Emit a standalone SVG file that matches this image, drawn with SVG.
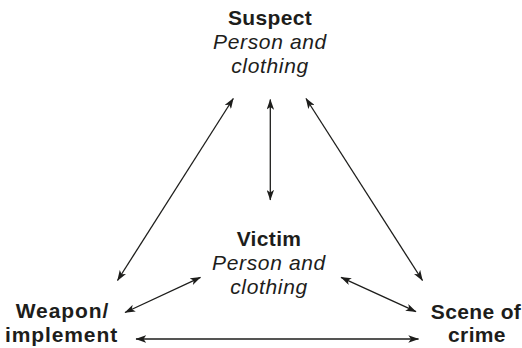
<svg xmlns="http://www.w3.org/2000/svg" width="522" height="348" viewBox="0 0 522 348">
  <style>
    text { font-family: "Liberation Sans", Arial, Helvetica, sans-serif; font-size: 21px; fill: #1d1d1b; text-anchor: middle; }
    .b { font-weight: bold; letter-spacing: 0.35px; }
    .w { letter-spacing: 0.9px; }
    .i { font-style: italic; letter-spacing: 0.65px; }
    .conn line { stroke: #1d1d1b; stroke-width: 1.3; fill: none; marker-start: url(#ah); marker-end: url(#ah); }
  </style>
  <defs>
    <marker id="ah" viewBox="0 0 10 7" refX="9.5" refY="3.5" markerWidth="11" markerHeight="7.5" markerUnits="userSpaceOnUse" orient="auto-start-reverse">
      <path d="M0,0 L10,3.5 L0,7 L2.5,3.5 Z" fill="#1d1d1b"/>
    </marker>
  </defs>
  <rect width="522" height="348" fill="#ffffff"/>
  <g id="suspect">
    <text class="b" x="270" y="25">Suspect</text>
    <text class="i" x="270" y="48.5">Person and</text>
    <text class="i" x="270" y="72.5">clothing</text>
  </g>
  <g id="victim">
    <text class="b" x="269" y="246">Victim</text>
    <text class="i" x="269" y="270">Person and</text>
    <text class="i" x="269" y="294">clothing</text>
  </g>
  <g id="weapon">
    <text class="b w" x="62.5" y="318">Weapon/</text>
    <text class="b w" x="61.5" y="342">implement</text>
  </g>
  <g id="scene">
    <text class="b" x="476" y="319">Scene of</text>
    <text class="b" x="477" y="342">crime</text>
  </g>
  <g id="connectors" class="conn">
    <line x1="233.3" y1="98.5" x2="117.5" y2="280.5"/>
    <line x1="270.3" y1="99.5" x2="270.3" y2="200"/>
    <line x1="306" y1="98.5" x2="422.5" y2="280.5"/>
    <line x1="125" y1="312.5" x2="200.5" y2="277.3"/>
    <line x1="341" y1="277.3" x2="416" y2="311.7"/>
    <line x1="136" y1="339" x2="418.5" y2="339"/>
  </g>
</svg>
